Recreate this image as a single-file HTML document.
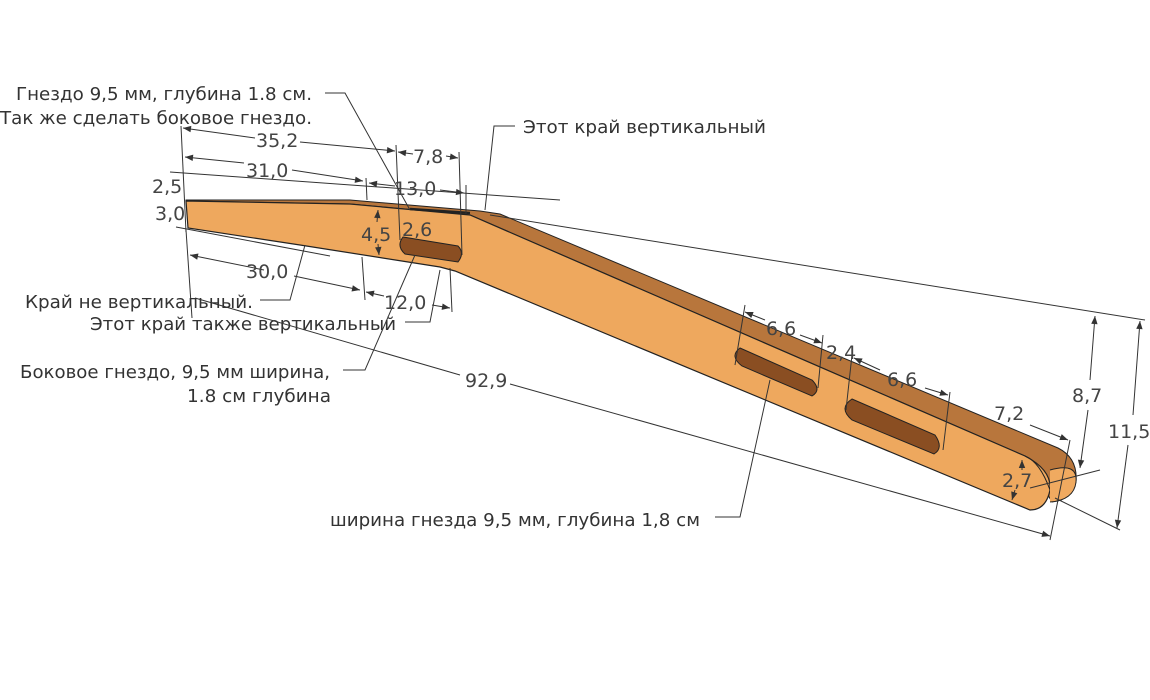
<!DOCTYPE html>
<html><head><meta charset="utf-8"><style>
html,body{margin:0;padding:0;background:#fff;}
svg{display:block;}
text{font-family:"DejaVu Sans","Liberation Sans",sans-serif;font-size:18px;fill:#333;}
.d text{font-size:19px;fill:#444;}
</style></head><body>
<svg width="1150" height="700" viewBox="0 0 1150 700" xmlns="http://www.w3.org/2000/svg">
<defs>
<marker id="a" viewBox="0 0 10 10" refX="10" refY="5" markerWidth="11" markerHeight="8" orient="auto-start-reverse" markerUnits="userSpaceOnUse"><path d="M0,1 L10,5 L0,9 z" fill="#333"/></marker>
</defs>
<!-- top face -->
<path d="M186,200 L350,200 L480,211 L500,214 L1058,448 Q1078,458 1076,482 Q1072,500 1052,502 L1025,456 L470,215 L350,204 L186,201 Z" fill="#b8763c" stroke="#222" stroke-width="1"/>
<!-- front face -->
<path d="M186,201 L350,204 L470,215 L1025,456 Q1052,470 1050,490 Q1046,510 1030,510 L455,271 L440,267 L300,245 L188,228 Z" fill="#eea85e" stroke="#222" stroke-width="1.2"/>
<path d="M1025,456 Q1040,462 1050,490" fill="none" stroke="#222"/>
<path d="M1050,470 Q1078,462 1076,482 Q1074,500 1050,502" fill="#f0aa60" stroke="#222"/>
<!-- slots -->
<path d="M403,237 L458,246 Q465,253 458,262 L405,254 Q396,246 403,237 Z" fill="#8a4e22" stroke="#222"/>
<path d="M740,348 L812,380 Q822,390 812,396 L742,366 Q729,356 740,348 Z" fill="#8a4e22" stroke="#222"/>
<path d="M852,399 L935,435 Q944,448 934,454 L852,420 Q838,408 852,399 Z" fill="#8a4e22" stroke="#222"/>
<path d="M410,209 L470,213" stroke="#222" stroke-width="2.5"/>
<g stroke="#333" stroke-width="1" fill="none">
<line x1="181" y1="126" x2="186" y2="232"/>
<line x1="186" y1="230" x2="192" y2="318"/>
<line x1="396" y1="145" x2="400" y2="240"/>
<line x1="459" y1="152" x2="462" y2="255"/>
<line x1="366" y1="178" x2="367" y2="200"/>
<line x1="466" y1="185" x2="466" y2="214"/>
<line x1="362" y1="257" x2="365" y2="300"/>
<line x1="450" y1="268" x2="452" y2="312"/>
<line x1="170" y1="172" x2="560" y2="200"/>
<line x1="176" y1="227" x2="330" y2="256"/>
<line x1="490" y1="215" x2="1145" y2="320"/>
<line x1="1055" y1="498" x2="1120" y2="530"/>
<line x1="1030" y1="488" x2="1100" y2="470"/>
<line x1="745" y1="305" x2="735" y2="365"/>
<line x1="823" y1="335" x2="818" y2="388"/>
<line x1="852" y1="355" x2="846" y2="410"/>
<line x1="950" y1="392" x2="943" y2="450"/>
<line x1="1070" y1="440" x2="1050" y2="540"/>
<line x1="183" y1="128" x2="255" y2="138" marker-start="url(#a)"/>
<line x1="300" y1="142" x2="395" y2="151" marker-end="url(#a)"/>
<line x1="185" y1="157" x2="244" y2="163" marker-start="url(#a)"/>
<line x1="292" y1="170" x2="363" y2="181" marker-end="url(#a)"/>
<line x1="398" y1="152" x2="413" y2="154" marker-start="url(#a)"/>
<line x1="446" y1="156" x2="458" y2="158" marker-end="url(#a)"/>
<line x1="369" y1="183" x2="395" y2="186" marker-start="url(#a)"/>
<line x1="440" y1="190" x2="464" y2="193" marker-end="url(#a)"/>
<line x1="378" y1="210" x2="377" y2="222" marker-start="url(#a)"/>
<line x1="378" y1="244" x2="379" y2="255" marker-end="url(#a)"/>
<line x1="190" y1="255" x2="264" y2="270" marker-start="url(#a)"/>
<line x1="294" y1="276" x2="360" y2="290" marker-end="url(#a)"/>
<line x1="366" y1="292" x2="384" y2="296" marker-start="url(#a)"/>
<line x1="432" y1="305" x2="450" y2="308" marker-end="url(#a)"/>
<line x1="195" y1="298" x2="460" y2="375"/>
<line x1="510" y1="384" x2="1050" y2="536" marker-end="url(#a)"/>
<line x1="745" y1="312" x2="765" y2="320" marker-start="url(#a)"/>
<line x1="800" y1="335" x2="822" y2="343" marker-end="url(#a)"/>
<line x1="854" y1="358" x2="880" y2="370" marker-start="url(#a)"/>
<line x1="925" y1="388" x2="948" y2="395" marker-end="url(#a)"/>
<line x1="1030" y1="425" x2="1068" y2="440" marker-end="url(#a)"/>
<line x1="1095" y1="316" x2="1090" y2="380" marker-start="url(#a)"/>
<line x1="1088" y1="410" x2="1080" y2="468" marker-end="url(#a)"/>
<line x1="1140" y1="321" x2="1133" y2="415" marker-start="url(#a)"/>
<line x1="1128" y1="445" x2="1117" y2="528" marker-end="url(#a)"/>
<line x1="1022" y1="460" x2="1022" y2="470" marker-start="url(#a)"/>
<line x1="1015" y1="490" x2="1012" y2="500" marker-end="url(#a)"/>
<polyline points="325,93 345,93 410,210"/>
<polyline points="515,126 494,126 485,210"/>
<polyline points="260,300 290,300 305,245"/>
<polyline points="405,322 430,322 440,270"/>
<polyline points="343,370 365,370 415,255"/>
<polyline points="715,517 740,517 770,380"/>
</g>
<text x="16" y="100" textLength="296" lengthAdjust="spacingAndGlyphs">Гнездо 9,5 мм, глубина 1.8 см.</text>
<text x="0" y="124" textLength="312" lengthAdjust="spacingAndGlyphs">Так же сделать боковое гнездо.</text>
<text x="523" y="133" textLength="243" lengthAdjust="spacingAndGlyphs">Этот край вертикальный</text>
<text x="25" y="308" textLength="228" lengthAdjust="spacingAndGlyphs">Край не вертикальный.</text>
<text x="90" y="330" textLength="306" lengthAdjust="spacingAndGlyphs">Этот край также вертикальный</text>
<text x="20" y="378" textLength="310" lengthAdjust="spacingAndGlyphs">Боковое гнездо, 9,5 мм ширина,</text>
<text x="187" y="402" textLength="144" lengthAdjust="spacingAndGlyphs">1.8 см глубина</text>
<text x="330" y="526" textLength="370" lengthAdjust="spacingAndGlyphs">ширина гнезда 9,5 мм, глубина 1,8 см</text>
<g class="d">
<text x="256" y="147">35,2</text>
<text x="246" y="177">31,0</text>
<text x="413" y="163">7,8</text>
<text x="394" y="195">13,0</text>
<text x="152" y="193">2,5</text>
<text x="155" y="220">3,0</text>
<text x="361" y="241">4,5</text>
<text x="402" y="236">2,6</text>
<text x="246" y="278">30,0</text>
<text x="384" y="309">12,0</text>
<text x="465" y="387">92,9</text>
<text x="766" y="335">6,6</text>
<text x="826" y="359">2,4</text>
<text x="887" y="386">6,6</text>
<text x="994" y="420">7,2</text>
<text x="1072" y="402">8,7</text>
<text x="1108" y="438">11,5</text>
<text x="1002" y="487">2,7</text>
</g>
</svg>
</body></html>
